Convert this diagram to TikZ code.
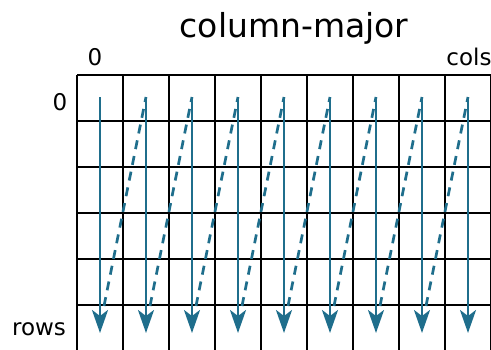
\documentclass[tikz,border=0pt]{standalone}
\usepackage{fontspec}
\setmainfont{DejaVu Sans}
\usetikzlibrary{arrows.meta}
\definecolor{flowteal}{HTML}{1F6E8C}

\begin{document}
\begin{tikzpicture}[
        x=1pt, y=-1pt,
        cellline/.style={line width=2.8pt, black},
        colarrow/.style={-{Stealth[length=23pt, width=16pt, inset=6pt]}, line width=2.7pt, flowteal},
        jump/.style={line width=2.7pt, flowteal, dash pattern=on 9pt off 7pt},
        lbl/.style={font=\fontsize{23}{27}\selectfont, anchor=base}
    ]
        % Frame
        \useasboundingbox (0,0) rectangle (491,349);
        \clip (0,0) rectangle (491,349);

        % Grid
        \foreach \c in {0,...,9}
            \draw[cellline] (77+46*\c,75) -- (77+46*\c,351);
        \foreach \r in {0,...,6}
            \draw[cellline] (77,75+46*\r) -- (491,75+46*\r);

        % Arrows: down each column
        \foreach \c in {0,...,8} {
            \coordinate (top\c) at (100+46*\c,97);
            \coordinate (bot\c) at (100+46*\c,333);
            \coordinate (from\c) at (104+46*\c,306);
            \draw[colarrow] (top\c) -- (bot\c);
        }

        % Arrows: jump to next column
        \foreach \c [count=\n] in {0,...,7}
            \draw[jump] (from\c) -- (top\n);

        % Labels
        \node[font=\fontsize{33}{38}\selectfont, anchor=base] (title) at (294,37) {column-major};
        \node[lbl] (colfirst) at (95,65) {0};
        \node[lbl] (collast) at (469,65) {cols};
        \node[lbl] (rowfirst) at (60,110) {0};
        \node[lbl] (rowlast) at (39,335) {rows};
    \end{tikzpicture}
\end{document}
